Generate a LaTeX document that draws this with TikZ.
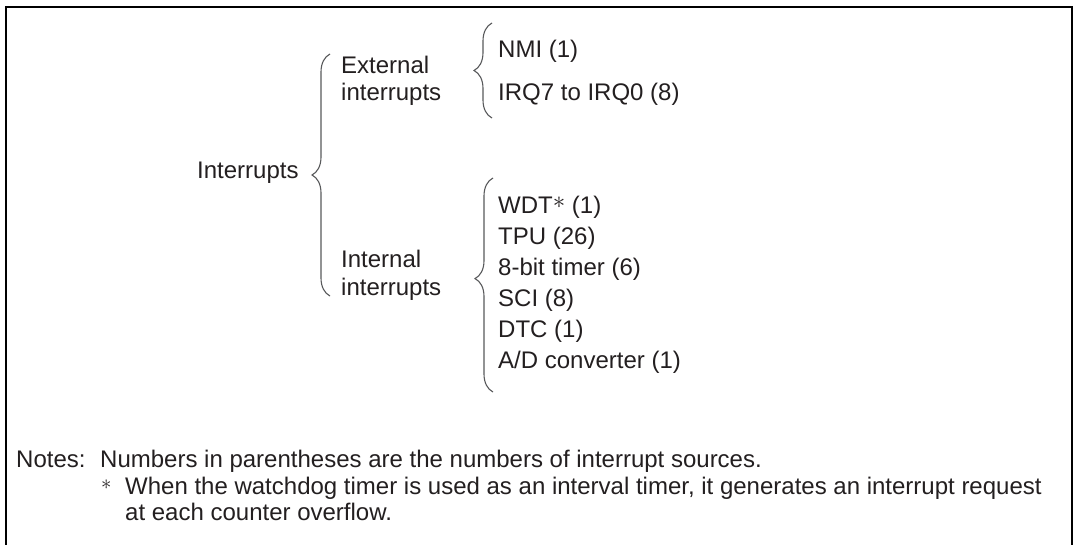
\documentclass[tikz,border=0pt]{standalone}
\usepackage{fontspec}
\setmainfont{Liberation Sans}
\usetikzlibrary{decorations.pathreplacing}
\definecolor{textblack}{HTML}{231F20}
\definecolor{bracegray}{HTML}{58595B}

\begin{document}
\begin{tikzpicture}[
  x=1pt, y=-1pt,
  label/.style={anchor=base west, inner sep=0pt, text=textblack, align=left, font=\fontsize{24}{27}\selectfont},
  curly/.style={draw=bracegray, line width=1.1pt, decorate, decoration={brace, amplitude=18pt}},
  frame/.style={draw=black, line width=2pt}
]
  \useasboundingbox (0,0) rectangle (1075,544);
  \draw[frame] (6,545) -- (6,7) -- (1072,7) -- (1072,545);

  % tree of interrupt sources (base anchor = last line)
  \node[label] (intr) at (197,178) {Interrupts};
  \node[label] (ext) at (341,100) {External\\interrupts};
  \node[label, font=\fontsize{24}{28}\selectfont] (int) at (341,295) {Internal\\interrupts};
  \node[label] (nmi) at (498,57) {NMI (1)};
  \node[label] (irq) at (498,100) {IRQ7 to IRQ0 (8)};
  \node[label, font=\fontsize{24}{31}\selectfont] (src) at (498,368)
    {WDT\raisebox{5pt}{$\ast$} (1)\\TPU (26)\\8-bit timer (6)\\SCI (8)\\DTC (1)\\A/D converter (1)};

  \coordinate (intr top) at (330,54);
  \coordinate (intr bot) at (330,296);
  \coordinate (ext top) at (492,23);
  \coordinate (ext bot) at (492,118);
  \coordinate (int top) at (493,178);
  \coordinate (int bot) at (493,392);
  \draw[curly] (intr bot) -- (intr top);
  \draw[curly, decoration={aspect=0.5}] (ext bot) -- (ext top);
  \draw[curly, decoration={aspect=0.53}] (int bot) -- (int top);

  % notes
  \node[label] (notes) at (16,467) {Notes:};
  \node[label] (note1) at (100,467) {Numbers in parentheses are the numbers of interrupt sources.};
  \node[label, font=\fontsize{20}{24}\selectfont, text height=8pt, text depth=0pt] (star) at (101,489) {$\ast$};
  \node[label, font=\fontsize{24}{26}\selectfont] (note2) at (125,520)
    {When the watchdog timer is used as an interval timer, it generates an interrupt request\\at each counter overflow.};
\end{tikzpicture}
\end{document}
